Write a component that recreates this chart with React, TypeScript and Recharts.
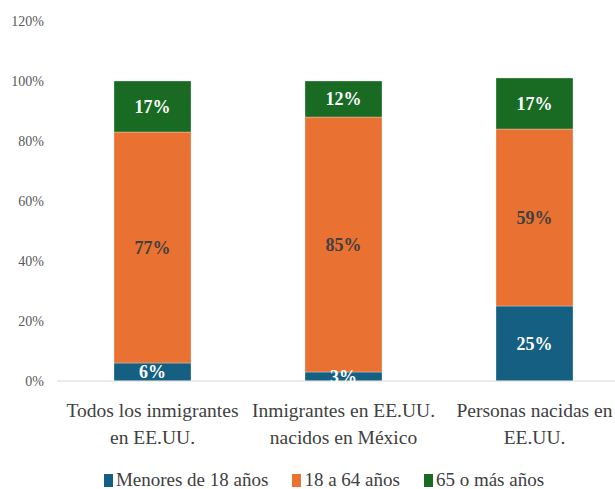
import React from "react";
import { BarChart, Bar, XAxis, YAxis, Legend, LabelList } from "recharts";

const categories = [
  "Todos los inmigrantes\nen EE.UU.",
  "Inmigrantes en EE.UU.\nnacidos en México",
  "Personas nacidas en\nEE.UU.",
];
const menores = [6, 3, 25];
const adultos = [77, 85, 59];
const mayores = [17, 12, 17];
const yTicks = [0, 20, 40, 60, 80, 100, 120];

const seriesNames = ["Menores de 18 años", "18 a 64 años", "65 o más años"];
const colors = ["#156082", "#E97132", "#196B24"];

const data = categories.map((c, i) => ({
  cat: c,
  menores: menores[i],
  adultos: adultos[i],
  mayores: mayores[i],
}));

const FONT = "'Liberation Serif', 'DejaVu Serif', serif";

const CatTick = (props: any) => {
  const { x, y, payload } = props;
  const lines = String(payload.value).split("\n");
  return (
    <text
      x={x}
      y={y}
      textAnchor="middle"
      fill="#404040"
      fontFamily={FONT}
      fontSize={19.5}
    >
      {lines.map((l, i) => (
        <tspan key={i} x={x} dy={i === 0 ? 36 : 27}>
          {l}
        </tspan>
      ))}
    </text>
  );
};

const LegendContent = () => (
  <div
    style={{
      display: "flex",
      justifyContent: "center",
      alignItems: "center",
      height: 24,
      gap: 24,
      paddingLeft: 18,
      fontFamily: FONT,
      fontSize: 19,
      color: "#404040",
      whiteSpace: "nowrap",
    }}
  >
    {seriesNames.map((n, i) => (
      <div key={n} style={{ display: "flex", alignItems: "center" }}>
        <span
          style={{
            display: "inline-block",
            width: 9,
            height: 13,
            background: colors[i],
            marginRight: 3,
          }}
        />
        <span>{n}</span>
      </div>
    ))}
  </div>
);

const fmt = (v: any) => `${v}%`;

export default function App() {
  return (
    <div
      style={{
        position: "absolute",
        left: 0,
        top: 0,
        width: 615,
        height: 489,
        overflow: "hidden",
        background: "#ffffff",
      }}
    >
      <BarChart
        width={640}
        height={500}
        data={data}
        margin={{ top: 21, right: 10, bottom: 8, left: 0 }}
        barSize={77}
      >
        <YAxis
          domain={[0, 120]}
          ticks={yTicks}
          tickFormatter={fmt}
          axisLine={false}
          tickLine={false}
          tickSize={0}
          tickMargin={13}
          width={57}
          interval={0}
          tick={{ fill: "#595959", fontSize: 14, fontFamily: FONT }}
        />
        <XAxis
          dataKey="cat"
          axisLine={{ stroke: "#d9d9d9", strokeWidth: 1 }}
          tickLine={false}
          tickSize={0}
          tickMargin={0}
          height={87}
          interval={0}
          tick={<CatTick />}
        />
        <Legend verticalAlign="bottom" content={<LegendContent />} />
        <Bar
          dataKey="menores"
          stackId="a"
          name={seriesNames[0]}
          fill={colors[0]}
          stroke="#ffffff"
          strokeWidth={0.3}
          isAnimationActive={false}
        >
          <LabelList
            dataKey="menores"
            position="center"
            formatter={fmt}
            fill="#ffffff"
            fontSize={18}
            fontWeight="bold"
            fontFamily={FONT}
          />
        </Bar>
        <Bar
          dataKey="adultos"
          stackId="a"
          name={seriesNames[1]}
          fill={colors[1]}
          stroke="#ffffff"
          strokeWidth={0.3}
          isAnimationActive={false}
        >
          <LabelList
            dataKey="adultos"
            position="center"
            formatter={fmt}
            fill="#404040"
            fontSize={18}
            fontWeight="bold"
            fontFamily={FONT}
          />
        </Bar>
        <Bar
          dataKey="mayores"
          stackId="a"
          name={seriesNames[2]}
          fill={colors[2]}
          stroke="#ffffff"
          strokeWidth={0.3}
          isAnimationActive={false}
        >
          <LabelList
            dataKey="mayores"
            position="center"
            formatter={fmt}
            fill="#ffffff"
            fontSize={18}
            fontWeight="bold"
            fontFamily={FONT}
          />
        </Bar>
      </BarChart>
    </div>
  );
}
